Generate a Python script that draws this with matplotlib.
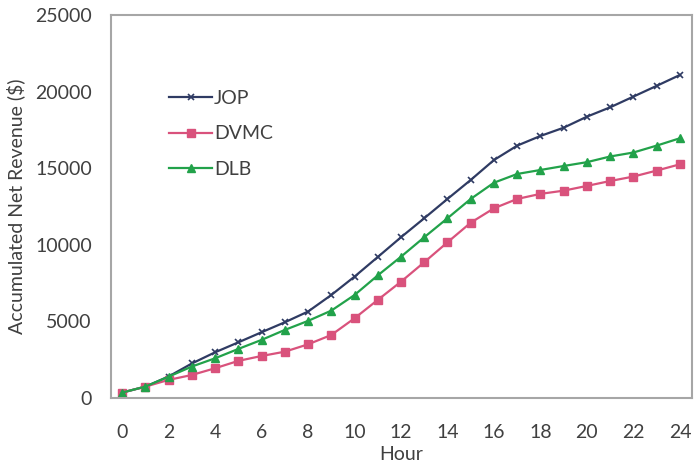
import matplotlib.pyplot as plt

# ---------------- data ----------------
hours = list(range(25))
jop = [350, 740, 1400, 2250, 2980, 3630, 4290, 4940, 5640, 6720, 7920, 9200,
       10490, 11730, 12990, 14230, 15530, 16470, 17100, 17640, 18360, 18970,
       19670, 20370, 21080]
dvmc = [350, 740, 1180, 1500, 1940, 2420, 2740, 3020, 3500, 4110, 5200, 6400,
        7590, 8860, 10160, 11440, 12380, 12990, 13320, 13530, 13840, 14160,
        14450, 14840, 15250]
dlb = [350, 740, 1390, 2050, 2590, 3200, 3790, 4440, 5030, 5700, 6720, 8000,
       9220, 10490, 11730, 12990, 14050, 14620, 14880, 15140, 15390, 15760,
       16020, 16470, 16950]

c_jop = '#2f3b63'
c_dvmc = '#d9527c'
c_dlb = '#22a24a'
c_txt = '#404040'

plt.rcParams['font.family'] = ['Lato', 'DejaVu Sans']

fig = plt.figure(figsize=(6.95, 4.66), dpi=100)
ax = fig.add_axes([0.160, 0.146, 0.835, 0.822])

ax.plot(hours, jop, color=c_jop, lw=1.6, marker='x', ms=5, mew=1.2, label='JOP')
ax.plot(hours, dvmc, color=c_dvmc, lw=1.6, marker='s', ms=5.5, label='DVMC')
ax.plot(hours, dlb, color=c_dlb, lw=1.6, marker='^', ms=6, label='DLB')

ax.set_xlim(-0.47, 24.5)
ax.set_ylim(0, 25000)
ax.set_xticks(range(0, 25, 2))
ax.set_yticks(range(0, 25001, 5000))
ax.tick_params(length=0, labelsize=14, labelcolor=c_txt)
ax.tick_params(axis='x', pad=19)
ax.tick_params(axis='y', pad=14)

for s in ax.spines.values():
    s.set_color('#a6a6a6')
    s.set_linewidth(1.5)

ax.set_xlabel('Hour', fontsize=14, color=c_txt, labelpad=3)
ax.set_ylabel('Accumulated Net Revenue ($)', fontsize=14, color=c_txt, labelpad=7)

ax.legend(loc='upper left', bbox_to_anchor=(0.07, 0.85), frameon=False,
          fontsize=14, handlelength=2.2, handletextpad=0.1, labelspacing=0.95,
          labelcolor=c_txt)

fig.savefig('out.png', dpi=100)
